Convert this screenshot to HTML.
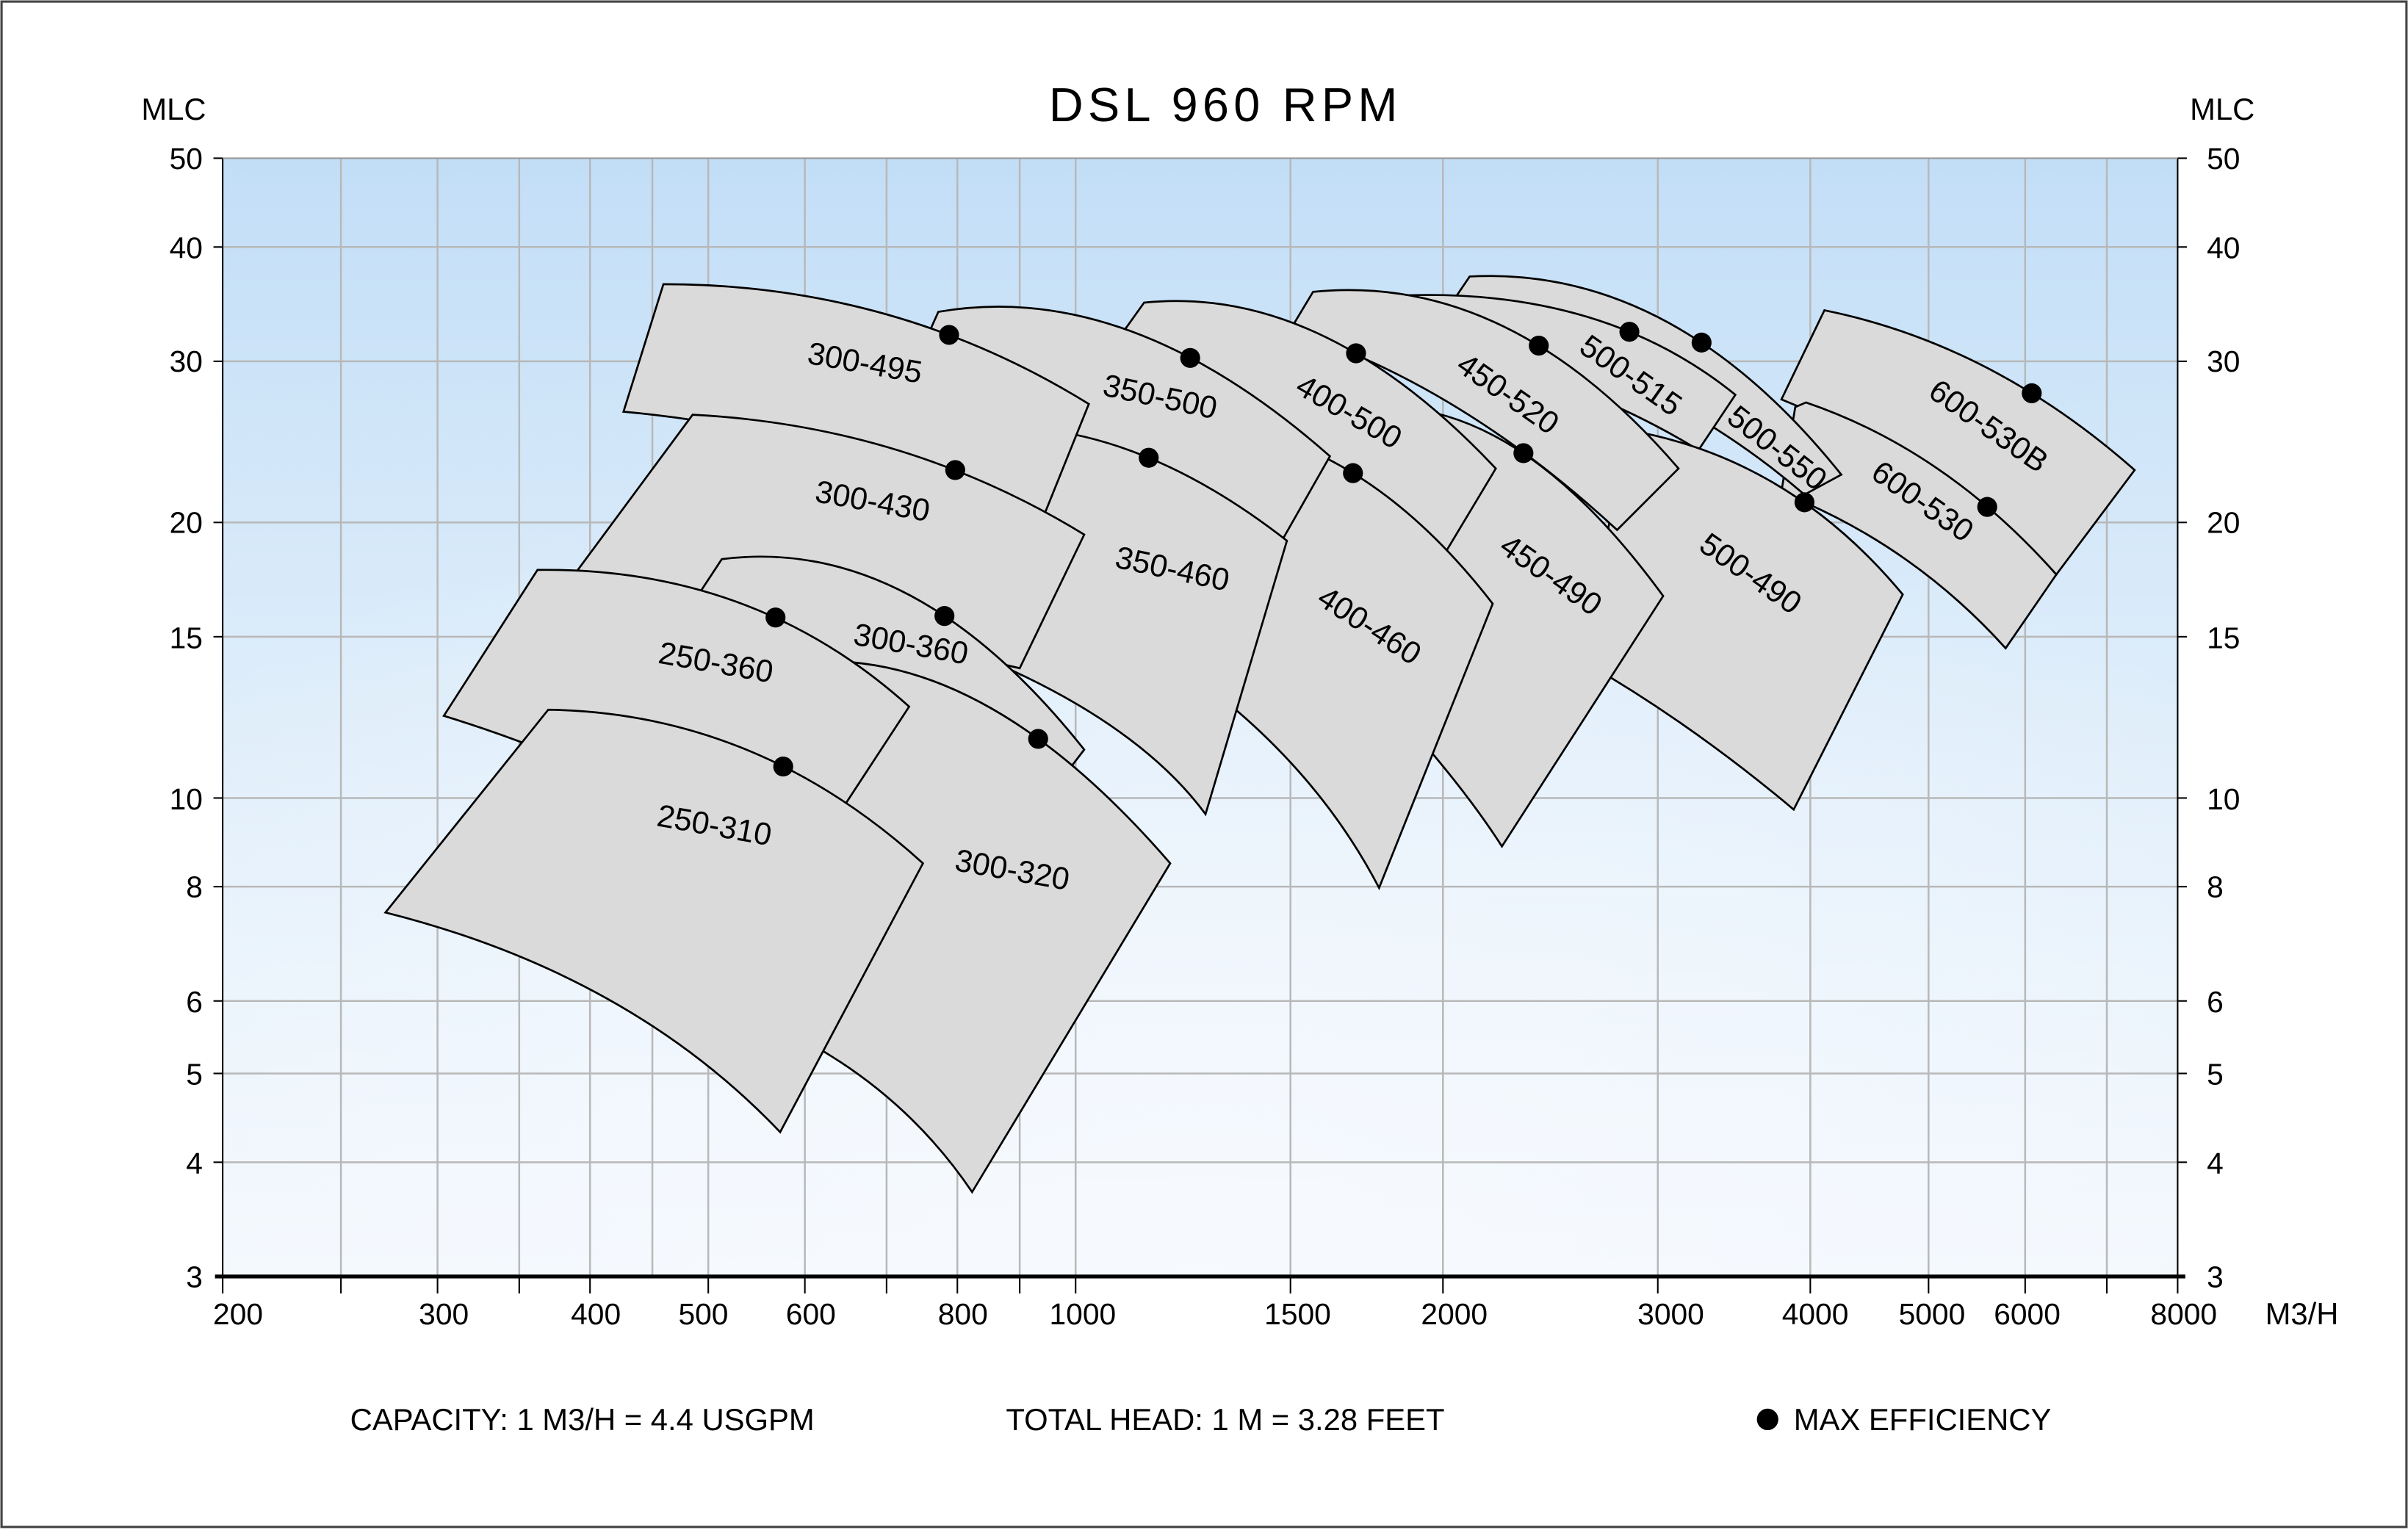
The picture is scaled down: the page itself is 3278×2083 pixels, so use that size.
<!DOCTYPE html>
<html><head><meta charset="utf-8"><style>
html,body{margin:0;padding:0;background:#fff;}
svg{display:block;}
text{font-family:"Liberation Sans",sans-serif;fill:#000;}
</style></head><body>
<svg width="3278" height="2083" viewBox="0 0 1568 996" preserveAspectRatio="none" xmlns="http://www.w3.org/2000/svg">
<defs>
<linearGradient id="bg" x1="0" y1="0" x2="0" y2="1">
<stop offset="0" stop-color="#c2def7"/><stop offset="0.45" stop-color="#dcecfa"/><stop offset="1" stop-color="#f3f8fd"/>
</linearGradient>
<radialGradient id="rg" cx="0.5" cy="1" r="0.75">
<stop offset="0" stop-color="#f7fafe" stop-opacity="0.9"/><stop offset="1" stop-color="#f7fafe" stop-opacity="0"/>
</radialGradient>
</defs>
<rect x="0" y="0" width="1568" height="996" fill="#fff"/>
<rect x="1" y="1" width="1566" height="993" fill="none" stroke="#444" stroke-width="1.5"/>
<rect x="145" y="103" width="1273" height="728" fill="url(#bg)"/>
<rect x="145" y="103" width="1273" height="728" fill="url(#rg)"/>
<g stroke="#b8b8b8" stroke-width="1.2">
<line x1="222" y1="103" x2="222" y2="831"/><line x1="284.9" y1="103" x2="284.9" y2="831"/>
<line x1="338.1" y1="103" x2="338.1" y2="831"/><line x1="384.2" y1="103" x2="384.2" y2="831"/>
<line x1="424.8" y1="103" x2="424.8" y2="831"/><line x1="461.2" y1="103" x2="461.2" y2="831"/>
<line x1="524.1" y1="103" x2="524.1" y2="831"/><line x1="577.3" y1="103" x2="577.3" y2="831"/>
<line x1="623.4" y1="103" x2="623.4" y2="831"/><line x1="664" y1="103" x2="664" y2="831"/>
<line x1="700.4" y1="103" x2="700.4" y2="831"/><line x1="840.3" y1="103" x2="840.3" y2="831"/>
<line x1="939.6" y1="103" x2="939.6" y2="831"/><line x1="1079.5" y1="103" x2="1079.5" y2="831"/>
<line x1="1178.8" y1="103" x2="1178.8" y2="831"/><line x1="1255.8" y1="103" x2="1255.8" y2="831"/>
<line x1="1318.7" y1="103" x2="1318.7" y2="831"/><line x1="1371.9" y1="103" x2="1371.9" y2="831"/>
<line x1="145" y1="756.6" x2="1418" y2="756.6"/><line x1="145" y1="698.8" x2="1418" y2="698.8"/>
<line x1="145" y1="651.6" x2="1418" y2="651.6"/><line x1="145" y1="577.2" x2="1418" y2="577.2"/>
<line x1="145" y1="519.5" x2="1418" y2="519.5"/><line x1="145" y1="414.5" x2="1418" y2="414.5"/>
<line x1="145" y1="340.1" x2="1418" y2="340.1"/><line x1="145" y1="235.2" x2="1418" y2="235.2"/>
<line x1="145" y1="160.8" x2="1418" y2="160.8"/>
</g>
<g stroke="#000" stroke-width="1">
<line x1="145" y1="103" x2="145" y2="831"/><line x1="1418" y1="103" x2="1418" y2="831"/>
<line x1="145" y1="103" x2="1418" y2="103" stroke="#999"/>
</g>
<line x1="140" y1="831" x2="1423" y2="831" stroke="#000" stroke-width="2.5"/>
<g stroke="#000" stroke-width="1">
<line x1="145" y1="831" x2="145" y2="842"/><line x1="222" y1="831" x2="222" y2="842"/><line x1="284.9" y1="831" x2="284.9" y2="842"/>
<line x1="338.1" y1="831" x2="338.1" y2="842"/><line x1="384.2" y1="831" x2="384.2" y2="842"/><line x1="461.2" y1="831" x2="461.2" y2="842"/>
<line x1="524.1" y1="831" x2="524.1" y2="842"/><line x1="577.3" y1="831" x2="577.3" y2="842"/><line x1="623.4" y1="831" x2="623.4" y2="842"/>
<line x1="664" y1="831" x2="664" y2="842"/><line x1="700.4" y1="831" x2="700.4" y2="842"/><line x1="840.3" y1="831" x2="840.3" y2="842"/>
<line x1="939.6" y1="831" x2="939.6" y2="842"/><line x1="1079.5" y1="831" x2="1079.5" y2="842"/><line x1="1178.8" y1="831" x2="1178.8" y2="842"/>
<line x1="1255.8" y1="831" x2="1255.8" y2="842"/><line x1="1318.7" y1="831" x2="1318.7" y2="842"/><line x1="1371.9" y1="831" x2="1371.9" y2="842"/>
<line x1="1418" y1="831" x2="1418" y2="842"/>
<line x1="139" y1="756.6" x2="145" y2="756.6"/><line x1="139" y1="698.8" x2="145" y2="698.8"/><line x1="139" y1="651.6" x2="145" y2="651.6"/>
<line x1="139" y1="577.2" x2="145" y2="577.2"/><line x1="139" y1="519.5" x2="145" y2="519.5"/><line x1="139" y1="414.5" x2="145" y2="414.5"/>
<line x1="139" y1="340.1" x2="145" y2="340.1"/><line x1="139" y1="235.2" x2="145" y2="235.2"/><line x1="139" y1="160.8" x2="145" y2="160.8"/>
<line x1="139" y1="103" x2="145" y2="103"/>
<line x1="1418" y1="756.6" x2="1424" y2="756.6"/><line x1="1418" y1="698.8" x2="1424" y2="698.8"/><line x1="1418" y1="651.6" x2="1424" y2="651.6"/>
<line x1="1418" y1="577.2" x2="1424" y2="577.2"/><line x1="1418" y1="519.5" x2="1424" y2="519.5"/><line x1="1418" y1="414.5" x2="1424" y2="414.5"/>
<line x1="1418" y1="340.1" x2="1424" y2="340.1"/><line x1="1418" y1="235.2" x2="1424" y2="235.2"/><line x1="1418" y1="160.8" x2="1424" y2="160.8"/>
<line x1="1418" y1="103" x2="1424" y2="103"/>
</g>

<g fill="#dadada" stroke="#000" stroke-width="1.3" stroke-linejoin="miter">
<path d="M1188,202 Q1297,224 1390,306 L1339,374 Q1260,300 1160,260 Z"/>
<path d="M1169,265 L1176,262 Q1267,293 1339,374 L1306,422 Q1250,360 1175,327 L1160,320 Z"/>
<path d="M957,180 Q1090,173 1199,309 L1175,322 Q1080,240 940,205 Z"/>
<path d="M900,193 Q1040,184 1130,257 L1106,293 Q1020,240 890,215 Z"/>
<path d="M1060,280 Q1165,298 1239,387 L1168,527 Q1100,470 1030,430 Z"/>
<path d="M855,190 Q983,177 1093,305 L1053,345 Q950,250 840,215 Z"/>
<path d="M900,265 Q992,263.5 1083,388 L978,551 Q955,515 915,470 Z"/>
<path d="M745,197 Q861,185 974,305 L935,370 Q830,260 725,225 Z"/>
<path d="M780,275 Q886,282 972,393 L898,578 Q860,505 790,450 Z"/>
<path d="M611,203 Q735,181.5 866,297 L833,355 Q720,290 590,250 Z"/>
<path d="M660,278 Q747,281 838,352 L785,530 Q737,465 620,420 Z"/>
<path d="M432,185 Q583,185 709,263 L678,340 Q540,280 406,268 Z"/>
<path d="M451,270 Q590,277 706,348 L664,435 Q520,400 340,420 Z"/>
<path d="M470,364 Q595,348 706,488 L620,600 Q520,520 420,440 Z"/>
<path d="M480,440 Q617.6,395 762,562 L633,776 Q573,687 460,650 Z"/>
<path d="M350,371 Q491,369 592,460 L520,570 Q400,500 289,466 Z"/>
<path d="M357,462 Q493,464 601,562 L508,737 Q410,634 251,594 Z"/>
</g>
<g fill="#000">
<circle cx="1323" cy="256" r="6.5"/><circle cx="1294" cy="330" r="6.5"/><circle cx="1108" cy="223" r="6.5"/>
<circle cx="1061" cy="216" r="6.5"/><circle cx="1175" cy="327" r="6.5"/><circle cx="1002" cy="225" r="6.5"/>
<circle cx="992" cy="295" r="6.5"/><circle cx="883" cy="230" r="6.5"/><circle cx="881" cy="308" r="6.5"/>
<circle cx="775" cy="233" r="6.5"/><circle cx="748" cy="298" r="6.5"/><circle cx="618" cy="218" r="6.5"/>
<circle cx="622" cy="306" r="6.5"/><circle cx="615" cy="401" r="6.5"/><circle cx="676" cy="481" r="6.5"/>
<circle cx="505" cy="402" r="6.5"/><circle cx="510" cy="499" r="6.5"/>
</g>
<g font-size="20.5" text-anchor="middle">
<text transform="translate(562,243) rotate(10)">300-495</text>
<text transform="translate(754,265) rotate(12)">350-500</text>
<text transform="translate(875,274) rotate(30)">400-500</text>
<text transform="translate(978,262) rotate(35)">450-520</text>
<text transform="translate(1058,250) rotate(35)">500-515</text>
<text transform="translate(1153,297) rotate(38)">500-550</text>
<text transform="translate(1291,283) rotate(35)">600-530B</text>
<text transform="translate(1248,332) rotate(35)">600-530</text>
<text transform="translate(1136,379) rotate(35)">500-490</text>
<text transform="translate(1006,380) rotate(35)">450-490</text>
<text transform="translate(888,413) rotate(33)">400-460</text>
<text transform="translate(762,377) rotate(12)">350-460</text>
<text transform="translate(567,333) rotate(10)">300-430</text>
<text transform="translate(592,426) rotate(10)">300-360</text>
<text transform="translate(465,438) rotate(10)">250-360</text>
<text transform="translate(464,544) rotate(10)">250-310</text>
<text transform="translate(658,573) rotate(10)">300-320</text>
</g>
<text x="798" y="79" font-size="31" text-anchor="middle" letter-spacing="3">DSL 960 RPM</text>
<g font-size="20">
<text x="92" y="78">MLC</text><text x="1426" y="78">MLC</text>
<text x="1475" y="862">M3/H</text>
<text x="228" y="931">CAPACITY: 1 M3/H = 4.4 USGPM</text>
<text x="655" y="931">TOTAL HEAD: 1 M = 3.28 FEET</text>
<text x="1168" y="931">MAX EFFICIENCY</text>
</g>
<circle cx="1151" cy="924" r="7" fill="#000"/>
<g font-size="19.5" text-anchor="middle">
<text x="155" y="862">200</text><text x="289" y="862">300</text><text x="388" y="862">400</text>
<text x="458" y="862">500</text><text x="528" y="862">600</text><text x="627" y="862">800</text>
<text x="705" y="862">1000</text><text x="845" y="862">1500</text><text x="947" y="862">2000</text>
<text x="1088" y="862">3000</text><text x="1182" y="862">4000</text><text x="1258" y="862">5000</text>
<text x="1320" y="862">6000</text><text x="1422" y="862">8000</text>
</g>
<g font-size="19.5" text-anchor="end">
<text x="132" y="110">50</text><text x="132" y="168">40</text><text x="132" y="242">30</text>
<text x="132" y="347">20</text><text x="132" y="422">15</text><text x="132" y="527">10</text>
<text x="132" y="584">8</text><text x="132" y="659">6</text><text x="132" y="706">5</text>
<text x="132" y="764">4</text><text x="132" y="838">3</text>
</g>
<g font-size="19.5" text-anchor="start">
<text x="1437" y="110">50</text><text x="1437" y="168">40</text><text x="1437" y="242">30</text>
<text x="1437" y="347">20</text><text x="1437" y="422">15</text><text x="1437" y="527">10</text>
<text x="1437" y="584">8</text><text x="1437" y="659">6</text><text x="1437" y="706">5</text>
<text x="1437" y="764">4</text><text x="1437" y="838">3</text>
</g>
</svg>
</body></html>
